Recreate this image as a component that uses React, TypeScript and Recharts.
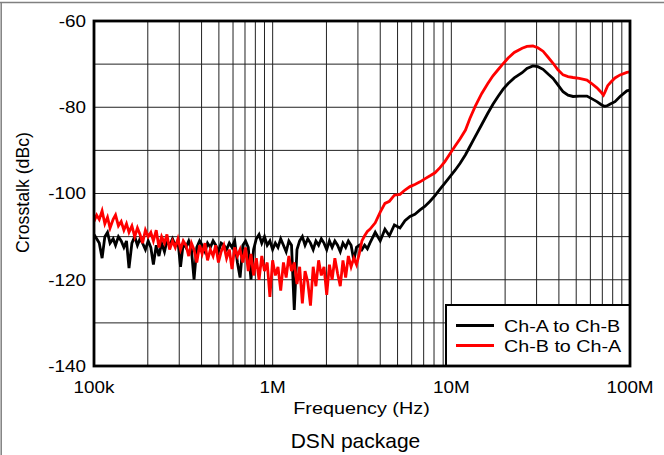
import { LineChart, Line, XAxis, YAxis, CartesianGrid } from "recharts";

// frequency points in kHz (noise floor region, then the rise and resonance region)
const freqKHz = [
  100, 103.5, 107, 111, 115, 119, 123, 128, 132, 137,
  142, 147, 152, 157, 163, 169, 175, 181, 187, 194,
  201, 208, 215, 223, 231, 239, 248, 256, 265, 275,
  285, 295, 305, 316, 327, 339, 351, 363, 376, 390,
  403, 418, 432, 448, 464, 480, 497, 515, 533, 552,
  572, 592, 613, 635, 657, 681, 705, 730, 756, 782,
  810, 839, 869, 900, 932, 965, 999, 1035, 1071, 1109,
  1149, 1190, 1232, 1275, 1321, 1368, 1416, 1466, 1518, 1572,
  1628, 1686, 1746, 1808, 1872, 1938, 2007, 2078, 2152, 2229,
  2308, 2390, 2474, 2562, 2653, 2748, 2845, 2946, 3051, 3159,
  3271, 3388,
  3500, 3750, 4000, 4250, 4500, 4800, 5160, 5500, 5870, 6250,
  6680, 7100, 7600, 8100, 8640, 9200, 9830, 10500, 11200, 12000,
  12700, 13600, 14800, 16000, 17100, 18250, 19500, 20800, 22500, 24900,
  26500, 28600, 30500, 32600, 34800, 37100, 39500, 42200, 45000, 48000,
  52000, 57400, 61000, 65300, 68500, 71000, 72400, 75000, 78000, 82400,
  88000, 96000, 100000,
];

// Ch-A to Ch-B crosstalk, dBc
const chAtoB = [
  -109.5, -110.5, -111.5, -115, -110, -109, -111.5, -110.5, -112, -110,
  -111, -112.5, -111, -117.3, -111.5, -110, -112, -110.5, -111.5, -113,
  -111, -112.5, -116.5, -112, -114.5, -111.5, -113.5, -111, -112, -110.5,
  -112, -111, -117, -111.5, -112.5, -111, -113, -120, -112.5, -111,
  -112, -113.5, -111.5, -112.5, -111, -112, -113.5, -111.5, -112, -113,
  -111.5, -112.5, -111, -116, -119.5, -112, -111, -112.5, -120, -113,
  -110.5, -109.5, -111.5, -110, -112, -111, -113, -111.5, -112.5, -110.5,
  -112, -113.5, -111, -112, -127, -113, -111, -110, -112, -110.5,
  -111.5, -113, -111, -112, -110.5, -111.5, -113, -111, -112.5, -111,
  -112, -113.5, -111.5, -112.5, -111, -112, -115.5, -112.5, -112, -113,
  -112, -112.8,
  -111.5, -109, -111, -108.3, -109.8, -107.3, -108, -106.3, -105.3, -104.8,
  -103.8, -103, -101.8, -100.5, -99, -97.6, -96.1, -94.6, -93, -91,
  -89.1, -86.8, -84, -81.4, -79.3, -77.5, -75.8, -74.5, -73.2, -72,
  -71, -70.4, -70.6, -71.2, -72.3, -73.3, -74.8, -76.4, -77.2, -77.5,
  -77.4, -77.4, -78, -78.7, -79.3, -79.7, -79.8, -79.6, -79.2, -78.7,
  -77.5, -76.2, -76,
];

// Ch-B to Ch-A crosstalk, dBc
const chBtoA = [
  -106.5, -105, -106, -104, -107, -105.5, -108, -106, -105, -107.5,
  -106.5, -108.5, -107, -109, -107.5, -110, -108, -109.5, -111.5, -108.5,
  -110, -109, -111, -108.5, -112.5, -110, -111.5, -109.5, -113, -111,
  -112.5, -110.5, -113, -111, -112, -114.5, -111.5, -113, -116, -112,
  -114, -111.5, -115.5, -113, -114.5, -112, -116, -113.5, -112, -115,
  -113, -117.5, -112.5, -114.5, -113, -116, -112.5, -118, -114, -119,
  -115, -120, -114.5, -118, -116, -124, -115.5, -119, -117, -122.5,
  -116, -119.5, -114.5, -118, -116, -121, -117, -125.5, -118, -120.5,
  -126, -117, -121.5, -115.5, -119, -117, -123.5, -116.5, -120, -115,
  -118.5, -121.5, -115.5, -119.5, -114.5, -117, -115, -116.5, -114, -111,
  -109.8, -108.8,
  -108.3, -106.8, -104.3, -102.3, -101.8, -100.4, -100.2, -99.2, -98.4, -97.9,
  -97.3, -96.6, -95.9, -95.2, -94, -92.6, -90.8, -89, -87.3, -85.3,
  -82.6, -79.8, -76.8, -74.5, -72.7, -71.3, -69.9, -68.6, -67.3, -66.3,
  -65.9, -65.8, -66.2, -67, -68.4, -69.8, -71.3, -72.5, -72.9, -73.1,
  -73.3, -73.7, -74.5, -75.5, -76.4, -77.2, -76.5, -75, -74.2, -73.2,
  -72.5, -71.9, -71.8,
];

const xGrid = [
  100000, 200000, 300000, 400000, 500000, 600000, 700000, 800000, 900000,
  1000000, 2000000, 3000000, 4000000, 5000000, 6000000, 7000000, 8000000, 9000000,
  10000000, 20000000, 30000000, 40000000, 50000000, 60000000, 70000000, 80000000, 90000000,
  100000000,
];
const xLabels: Record<number, string> = {
  100000: "100k",
  1000000: "1M",
  10000000: "10M",
  100000000: "100M",
};
const yGrid = [-140, -130, -120, -110, -100, -90, -80, -70, -60];
const yLabels = [-140, -120, -100, -80, -60];

const data = freqKHz.map((k, i) => ({ f: k * 1000, a: chAtoB[i], b: chBtoA[i] }));

const FONT = "'Liberation Sans', Arial, sans-serif";

function XTick({ x, payload }: any) {
  const label = xLabels[payload.value];
  if (!label) return <g />;
  return (
    <text
      transform={`translate(${x}, 393) scale(1.18, 1)`}
      textAnchor="middle"
      fontSize={16}
      fontFamily={FONT}
      fill="#000"
    >
      {label}
    </text>
  );
}

function YTick({ y, payload }: any) {
  if (!yLabels.includes(payload.value)) return <g />;
  return (
    <text
      transform={`translate(86, ${y + 5.8}) scale(1.18, 1)`}
      textAnchor="end"
      fontSize={16}
      fontFamily={FONT}
      fill="#000"
    >
      {payload.value}
    </text>
  );
}

export default function App() {
  return (
    <div style={{ position: "absolute", left: 0, top: 0, width: 664, height: 455, background: "#fff" }}>
      <LineChart
        width={664}
        height={455}
        data={data}
        margin={{ top: 21, right: 34, left: 0, bottom: 0 }}
      >
        <CartesianGrid stroke="#222" strokeWidth={1} />
        <XAxis
          dataKey="f"
          type="number"
          scale="log"
          domain={[100000, 100000000]}
          allowDataOverflow
          ticks={xGrid}
          interval={0}
          tick={<XTick />}
          tickLine={false}
          axisLine={false}
          height={89}
        />
        <YAxis
          type="number"
          domain={[-140, -60]}
          allowDataOverflow
          ticks={yGrid}
          interval={0}
          tick={<YTick />}
          tickLine={false}
          axisLine={false}
          width={94}
        />
        <Line
          type="linear"
          dataKey="a"
          stroke="#000"
          strokeWidth={2.8}
          dot={false}
          isAnimationActive={false}
        />
        <Line
          type="linear"
          dataKey="b"
          stroke="#ff0000"
          strokeWidth={2.8}
          dot={false}
          isAnimationActive={false}
        />
      </LineChart>
      <svg
        width={664}
        height={455}
        style={{ position: "absolute", left: 0, top: 0, pointerEvents: "none" }}
      >
        <line x1={0} y1={2.5} x2={664} y2={2.5} stroke="#808080" strokeWidth={1.5} />
        <line x1={1.2} y1={2} x2={1.2} y2={455} stroke="#808080" strokeWidth={1.5} />

        <rect x={446} y={305} width={184} height={61} fill="#fff" stroke="#000" strokeWidth={2} />
        <line x1={456} y1={325.5} x2={494} y2={325.5} stroke="#000" strokeWidth={3} />
        <line x1={456} y1={345.5} x2={494} y2={345.5} stroke="#ff0000" strokeWidth={3} />
        <text transform="translate(504, 331.5) scale(1.16, 1)" fontSize={17} fontFamily={FONT} fill="#000">
          Ch-A to Ch-B
        </text>
        <text transform="translate(504, 351.5) scale(1.16, 1)" fontSize={17} fontFamily={FONT} fill="#000">
          Ch-B to Ch-A
        </text>

        <rect x={94} y={21} width={536} height={345} fill="none" stroke="#000" strokeWidth={2.8} />

        <text
          transform="translate(29, 192.5) rotate(-90)"
          textAnchor="middle"
          fontSize={17.7}
          fontFamily={FONT}
          fill="#000"
        >
          Crosstalk (dBc)
        </text>
        <text
          transform="translate(361.5, 414) scale(1.18, 1)"
          textAnchor="middle"
          fontSize={16.8}
          fontFamily={FONT}
          fill="#000"
        >
          Frequency (Hz)
        </text>
        <text x={355.5} y={448} textAnchor="middle" fontSize={21} fontFamily={FONT} fill="#000">
          DSN package
        </text>
      </svg>
    </div>
  );
}
